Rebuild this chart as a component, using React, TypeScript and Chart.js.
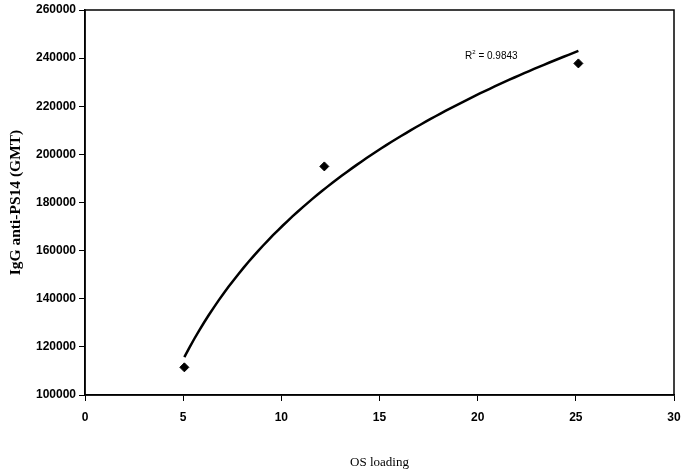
import React, { useEffect, useRef } from "react";
import { Chart, registerables } from "chart.js";

Chart.register(...registerables);

// Observed data
const osLoading = [5.06, 12.19, 25.13];
const iggGMT = [111500, 195000, 237800];

// Axis ticks
const xTicks = [0, 5, 10, 15, 20, 25, 30];
const yTicks = [100000, 120000, 140000, 160000, 180000, 200000, 220000, 240000, 260000];

const xTitle = "OS loading";
const yTitle = "IgG anti-PS14 (GMT)";
const r2Label = "0.9843";

// Logarithmic least-squares trendline fitted to the observed data
function logFit(xs: number[], ys: number[]) {
  const lx = xs.map((v) => Math.log(v));
  const n = xs.length;
  const mx = lx.reduce((a, b) => a + b, 0) / n;
  const my = ys.reduce((a, b) => a + b, 0) / n;
  let sxy = 0;
  let sxx = 0;
  for (let i = 0; i < n; i++) {
    sxy += (lx[i] - mx) * (ys[i] - my);
    sxx += (lx[i] - mx) * (lx[i] - mx);
  }
  const a = sxy / sxx;
  const b = my - a * mx;
  return { a, b };
}

export default function App() {
  const ref = useRef<HTMLCanvasElement | null>(null);

  useEffect(() => {
    if (!ref.current) return;
    const { a, b } = logFit(osLoading, iggGMT);
    const xmin = Math.min(...osLoading);
    const xmax = Math.max(...osLoading);
    const steps = 80;
    const trend: { x: number; y: number }[] = [];
    for (let i = 0; i <= steps; i++) {
      const x = xmin + ((xmax - xmin) * i) / steps;
      trend.push({ x, y: a * Math.log(x) + b });
    }
    const pts = osLoading.map((x, i) => ({ x, y: iggGMT[i] }));

    const framePlugin = {
      id: "frame",
      afterDatasetsDraw(chart: any) {
        const { ctx, chartArea } = chart;
        ctx.save();
        ctx.strokeStyle = "#000";
        ctx.lineWidth = 1.5;
        ctx.strokeRect(chartArea.left, chartArea.top, chartArea.right - chartArea.left, chartArea.bottom - chartArea.top);
        // R² label
        const xs = chart.scales.x;
        const ys = chart.scales.y;
        const px = xs.getPixelForValue(19.35);
        const py = ys.getPixelForValue(239600);
        ctx.fillStyle = "#000";
        ctx.textBaseline = "alphabetic";
        ctx.textAlign = "left";
        ctx.font = "10px 'Liberation Sans', Arial, sans-serif";
        ctx.fillText("R", px, py);
        const rw = ctx.measureText("R").width;
        ctx.font = "6px 'Liberation Sans', Arial, sans-serif";
        ctx.fillText("2", px + rw, py - 5);
        ctx.font = "10px 'Liberation Sans', Arial, sans-serif";
        ctx.fillText(" = " + r2Label, px + rw + 3.5, py);
        ctx.restore();
      },
    };

    const chart = new Chart(ref.current, {
      type: "scatter",
      data: {
        datasets: [
          {
            data: trend,
            showLine: true,
            borderColor: "#000",
            borderWidth: 2.5,
            pointRadius: 0,
            fill: false,
            tension: 0,
          },
          {
            data: pts,
            pointStyle: "rectRot",
            pointRadius: 4.5,
            backgroundColor: "#000",
            borderColor: "#000",
            borderWidth: 1,
            showLine: false,
          },
        ],
      },
      options: {
        responsive: false,
        animation: false,
        layout: { padding: { left: 0, top: 10, right: 10, bottom: 0 } },
        plugins: { legend: { display: false }, tooltip: { enabled: false } },
        scales: {
          x: {
            type: "linear",
            min: 0,
            max: 30,
            afterBuildTicks: (s: any) => {
              s.ticks = xTicks.map((v) => ({ value: v }));
            },
            afterFit: (s: any) => {
              s.height = 78;
              s.paddingLeft = 0;
              s.paddingRight = 0;
            },
            grid: { drawOnChartArea: false, drawTicks: true, tickLength: 6, color: "#000", lineWidth: 1 },
            border: { display: true, color: "#000", width: 1.5 },
            ticks: {
              color: "#000",
              padding: 9,
              maxRotation: 0,
              font: { family: "'Liberation Sans', Arial, sans-serif", size: 12, weight: "bold" },
            },
            title: {
              display: true,
              text: xTitle,
              color: "#000",
              padding: { top: 3, bottom: 3 },
              font: { family: "'Liberation Serif', 'Times New Roman', serif", size: 13, weight: "normal" },
            },
          },
          y: {
            type: "linear",
            min: 100000,
            max: 260000,
            afterBuildTicks: (s: any) => {
              s.ticks = yTicks.map((v) => ({ value: v }));
            },
            afterFit: (s: any) => {
              s.width = 85;
              s.paddingTop = 0;
              s.paddingBottom = 0;
            },
            grid: { drawOnChartArea: false, drawTicks: true, tickLength: 6, color: "#000", lineWidth: 1 },
            border: { display: true, color: "#000", width: 1.5 },
            ticks: {
              color: "#000",
              padding: 3,
              callback: (v: any) => String(v),
              font: { family: "'Liberation Sans', Arial, sans-serif", size: 12, weight: "bold" },
            },
            title: {
              display: true,
              text: yTitle,
              color: "#000",
              padding: { top: 7, bottom: 7 },
              font: { family: "'Liberation Serif', 'Times New Roman', serif", size: 15.5, weight: "bold" },
            },
          },
        },
      },
      plugins: [framePlugin],
    });
    return () => chart.destroy();
  }, []);

  return (
    <div style={{ position: "absolute", left: 0, top: 0, width: 684, height: 473, background: "#fff" }}>
      <canvas ref={ref} width={684} height={473} style={{ display: "block" }} />
    </div>
  );
}
